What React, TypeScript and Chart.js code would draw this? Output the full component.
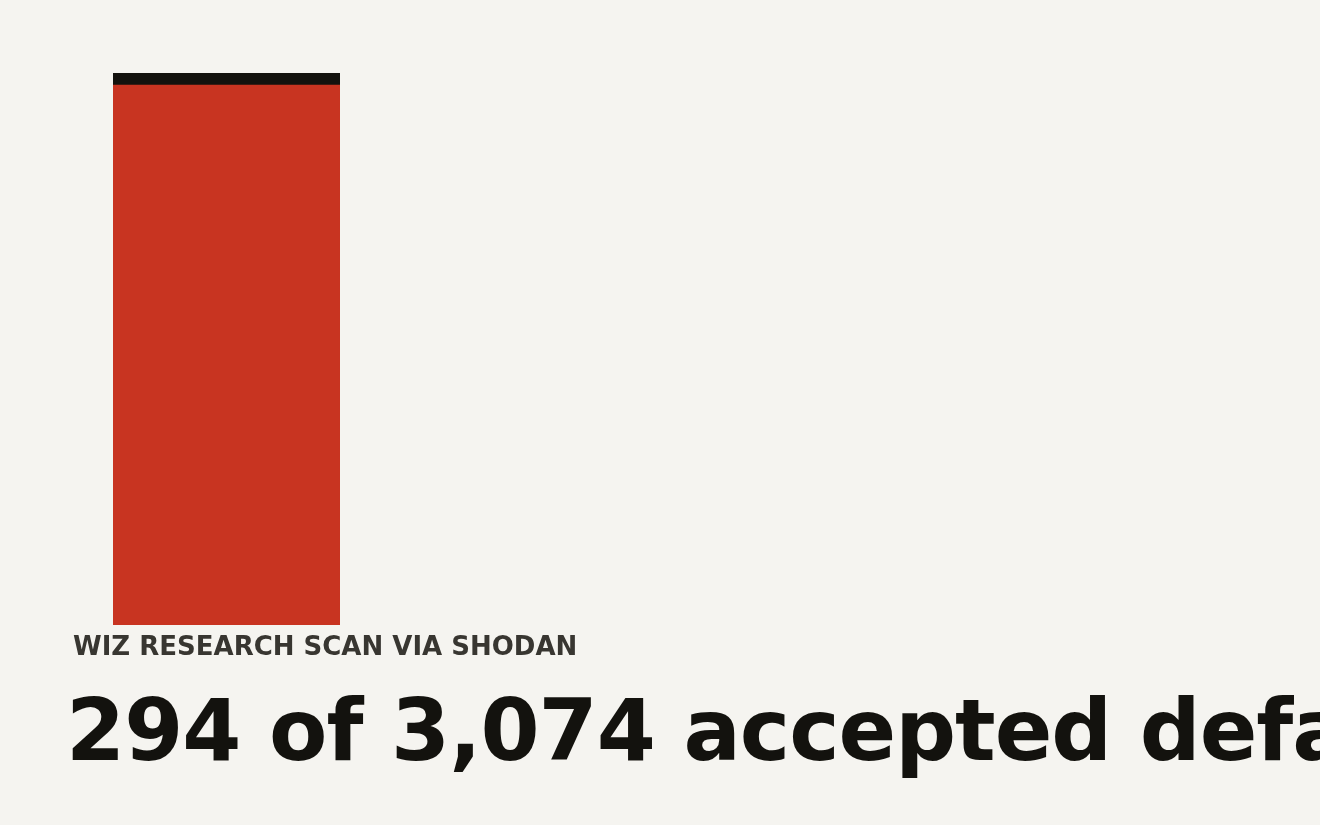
import { useEffect, useRef } from 'react';
import { Chart, registerables, Plugin } from 'chart.js';

Chart.register(...registerables);

const categories = ['Servers scanned'];
const scannedValues = [3074];
const sourceLabel = 'WIZ RESEARCH SCAN VIA SHODAN';
const headline = '294 of 3,074 accepted default credentials';

const BG = '#f5f4f0';

// draws the source line and the headline under the bar, left aligned
const captionPlugin: Plugin<'bar'> = {
  id: 'caption',
  afterDraw(chart) {
    const { ctx } = chart;
    ctx.save();
    ctx.textAlign = 'left';
    ctx.textBaseline = 'alphabetic';

    ctx.fillStyle = '#383631';
    ctx.font = 'bold 26px "DejaVu Sans"';
    ctx.fillText(sourceLabel, 73, 655);

    ctx.fillStyle = '#13120e';
    ctx.font = 'bold 85px "DejaVu Sans"';
    (ctx as any).letterSpacing = '-1px';
    ctx.fillText(headline, 66, 760);
    ctx.restore();
  },
};

const App: React.FC = () => {
  const chartRef = useRef<HTMLCanvasElement>(null);
  const chartInstanceRef = useRef<Chart<'bar'> | null>(null);

  useEffect(() => {
    document.body.style.margin = '0';
    document.body.style.background = BG;

    const canvas = chartRef.current;
    if (!canvas) return;
    const ctx = canvas.getContext('2d');
    if (!ctx) return;

    if (chartInstanceRef.current) {
      chartInstanceRef.current.destroy();
    }

    chartInstanceRef.current = new Chart(ctx, {
      type: 'bar',
      data: {
        labels: categories,
        datasets: [
          {
            label: 'Scanned',
            data: scannedValues,
            backgroundColor: '#c83421',
            borderColor: '#13120e',
            borderWidth: { top: 12, right: 0, bottom: 0, left: 0 },
            barPercentage: 1,
            categoryPercentage: 1,
          },
        ],
      },
      options: {
        animation: false,
        responsive: true,
        maintainAspectRatio: false,
        layout: {
          padding: { top: 73, left: 113, right: 980, bottom: 200 },
        },
        plugins: {
          legend: { display: false },
          tooltip: { enabled: false },
        },
        scales: {
          x: { display: false },
          y: { display: false, min: 0, max: 3074 },
        },
      },
      plugins: [captionPlugin],
    });

    return () => {
      if (chartInstanceRef.current) {
        chartInstanceRef.current.destroy();
        chartInstanceRef.current = null;
      }
    };
  }, []);

  return (
    <div style={{ width: '1320px', height: '825px', background: BG, overflow: 'hidden' }}>
      <canvas ref={chartRef}></canvas>
    </div>
  );
};

export default App;
